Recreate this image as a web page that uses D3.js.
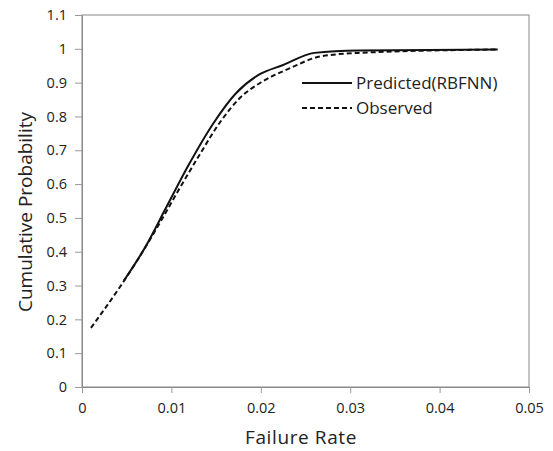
<!DOCTYPE html>
<html>
<head>
<meta charset="utf-8">
<script src="https://cdn.jsdelivr.net/npm/d3@7"></script>
<style>
body { margin: 0; background: #fff; }
text { font-family: "Open Sans", sans-serif; fill: #222; }
</style>
</head>
<body>
<svg id="svg"></svg>
<script>
var width = 553, height = 451;

// data
var xTicks = [0, 0.01, 0.02, 0.03, 0.04, 0.05];
var yTicks = [0, 0.1, 0.2, 0.3, 0.4, 0.5, 0.6, 0.7, 0.8, 0.9, 1, 1.1];
var predictedX = [0.0047, 0.007, 0.0095, 0.012, 0.0147, 0.0172, 0.0197, 0.0225, 0.026, 0.031, 0.0465];
var predictedY = [0.315, 0.41, 0.535, 0.66, 0.78, 0.868, 0.922, 0.952, 0.988, 0.995, 0.998];
var observedX = [0.001, 0.0043, 0.0065, 0.0085, 0.0106, 0.013, 0.0155, 0.0178, 0.0203, 0.0232, 0.0266, 0.031, 0.0465];
var observedY = [0.175, 0.298, 0.388, 0.476, 0.573, 0.68, 0.785, 0.858, 0.905, 0.942, 0.977, 0.988, 0.998];
var seriesNames = ["Predicted(RBFNN)", "Observed"];

var margin = {left: 82, top: 15, right: 24, bottom: 64};

var svg = d3.select("#svg")
	.attr("width", width)
	.attr("height", height);

var x = d3.scaleLinear().domain([0, 0.05]).range([margin.left, width - margin.right]);
var y = d3.scaleLinear().domain([0, 1.1]).range([height - margin.bottom, margin.top]);

// frame
svg.append("rect")
	.attr("x", x(0)).attr("y", y(1.1))
	.attr("width", x(0.05) - x(0)).attr("height", y(0) - y(1.1))
	.attr("fill", "none").attr("stroke", "#888").attr("stroke-width", 1);

var xAxis = svg.append("g")
	.attr("transform", "translate(0," + y(0) + ")")
	.call(d3.axisBottom(x).tickValues(xTicks).tickSize(6).tickPadding(10)
		.tickFormat(function(d) { return d === 0 ? "0" : d3.format(".2f")(d); }));

var yAxis = svg.append("g")
	.attr("transform", "translate(" + x(0) + ",0)")
	.call(d3.axisLeft(y).tickValues(yTicks).tickSize(7).tickPadding(8)
		.tickFormat(function(d) { return d === 0 || d === 1 ? String(d) : d3.format(".1f")(d); }));

[xAxis, yAxis].forEach(function(a) {
	a.select(".domain").attr("stroke", "#888");
	a.selectAll(".tick line").attr("stroke", "#999");
	a.selectAll(".tick text")
		.attr("font-size", "14.5px")
		.attr("font-family", "Open Sans, sans-serif")
		.attr("fill", "#222");
});

// axis titles
svg.append("text")
	.attr("x", 301).attr("y", 444)
	.attr("text-anchor", "middle")
	.attr("font-size", "19px")
	.attr("letter-spacing", "0.6px")
	.text("Failure Rate");

svg.append("text")
	.attr("transform", "translate(32,212) rotate(-90)")
	.attr("text-anchor", "middle")
	.attr("font-size", "19px")
	.text("Cumulative Probability");

var line = d3.line()
	.x(function(d) { return x(d[0]); })
	.y(function(d) { return y(d[1]); })
	.curve(d3.curveMonotoneX);

var predicted = d3.zip(predictedX, predictedY);
var observed = d3.zip(observedX, observedY);

svg.append("path")
	.datum(observed)
	.attr("d", line)
	.attr("fill", "none")
	.attr("stroke", "#111")
	.attr("stroke-width", 2)
	.attr("stroke-dasharray", "5,3");

svg.append("path")
	.datum(predicted)
	.attr("d", line)
	.attr("fill", "none")
	.attr("stroke", "#111")
	.attr("stroke-width", 2);

// legend
var legend = svg.append("g");
seriesNames.forEach(function(name, i) {
	var ly = 83 + i * 25;
	legend.append("line")
		.attr("x1", 302).attr("x2", 352)
		.attr("y1", ly).attr("y2", ly)
		.attr("stroke", "#111")
		.attr("stroke-width", 2)
		.attr("stroke-dasharray", i === 1 ? "5,3" : null);
	legend.append("text")
		.attr("x", 356).attr("y", ly)
		.attr("dy", "0.35em")
		.attr("font-size", "17px")
		.text(name);
});
</script>
</body>
</html>
